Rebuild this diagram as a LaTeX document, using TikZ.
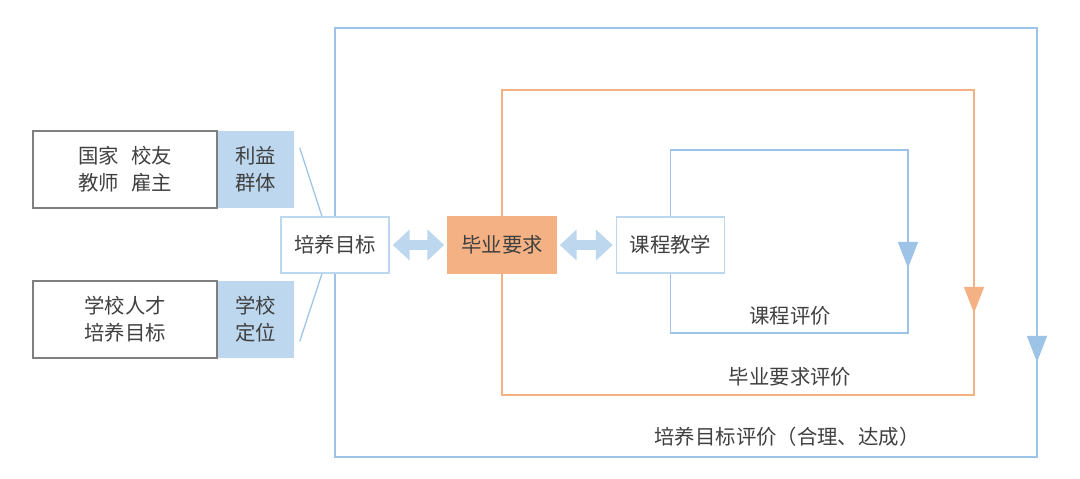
\documentclass[tikz,border=0pt]{standalone}
\usepackage{fontspec}
\usepackage{xcolor}
\usepackage{tikz}
\usetikzlibrary{positioning,arrows.meta,calc}
\newfontfamily\cjk{Noto Sans CJK SC}
\definecolor{lineblue}{HTML}{9DC3E6}
\definecolor{fillblue}{HTML}{BDD7EE}
\definecolor{orangefill}{HTML}{F4B183}
\definecolor{textgray}{HTML}{404040}
\definecolor{boxgray}{HTML}{7F7F7F}

\begin{document}
\begin{tikzpicture}[x=0.025cm, y=-0.025cm, font=\cjk\fontsize{14.5pt}{19pt}\selectfont, text=textgray]
\tikzstyle{srcbox}=[draw=boxgray, line width=0.8pt, align=center, minimum width=4.6cm, minimum height=1.925cm, inner sep=0pt]
\tikzstyle{tagbox}=[fill=fillblue, align=center, minimum width=1.9cm, minimum height=1.925cm, inner sep=0pt]
\tikzstyle{stage}=[draw=fillblue, fill=white, line width=0.8pt, minimum width=2.7cm, minimum height=1.4cm]
\tikzstyle{loopline}=[line width=0.9pt]
\tikzstyle{tip}=[-{Triangle[length=0.65cm, width=0.5cm]}]
\tikzstyle{link}=[{Triangle[length=0.42cm, width=0.75cm]}-{Triangle[length=0.42cm, width=0.75cm]}, line width=0.27cm, draw=fillblue, shorten <=0.08cm, shorten >=0.08cm]
\useasboundingbox (0,0) rectangle (1080,479);

\node[srcbox] (stake) at (125,169.5) {国家\hspace{0.6em}校友\\教师\hspace{0.6em}雇主};
\node[tagbox, right=0pt of stake] (staketag) {利益\\群体};
\node[srcbox] (school) at (125,319.5) {学校人才\\培养目标};
\node[tagbox, right=0pt of school] (schooltag) {学校\\定位};

\node[stage] (goal) at (335,245) {培养目标};
\node[stage, fill=orangefill, draw=orangefill] (req) at (502,245) {毕业要求};
\node[stage] (course) at (670.5,245) {课程教学};

\draw[link] (goal) -- (req);
\draw[link] (req) -- (course);

\draw[loopline, draw=lineblue, shorten <=0.45cm] (staketag.north east) -- ($(goal.north)+(-13,0)$);
\draw[loopline, draw=lineblue, shorten >=0.45cm] ($(goal.south)+(-13,0)$) -- (schooltag.south east);

\coordinate (c1) at (908,150);
\coordinate (c2) at (908,333);
\coordinate (ca) at (908,268);
\coordinate (r1) at (974,90);
\coordinate (r2) at (974,395);
\coordinate (ra) at (974,313);
\coordinate (g1) at (1037,28);
\coordinate (g2) at (1037,457);
\coordinate (ga) at (1037,362);

\draw[loopline, draw=lineblue] (course.north) |- (c1) -- (c2) -| (course.south);
\draw[loopline, draw=lineblue, tip] (c1) -- (ca);
\draw[loopline, draw=orangefill] (req.north) |- (r1) -- (r2) -| (req.south);
\draw[loopline, draw=orangefill, tip] (r1) -- (ra);
\draw[loopline, draw=lineblue] (goal.north) |- (g1) -- (g2) -| (goal.south);
\draw[loopline, draw=lineblue, tip] (g1) -- (ga);

\node (courseeval) at (790,316) {课程评价};
\node (reqeval) at (790,377) {毕业要求评价};
\node (goaleval) at (787,437) {培养目标评价（合理、达成）};
\end{tikzpicture}
\end{document}
